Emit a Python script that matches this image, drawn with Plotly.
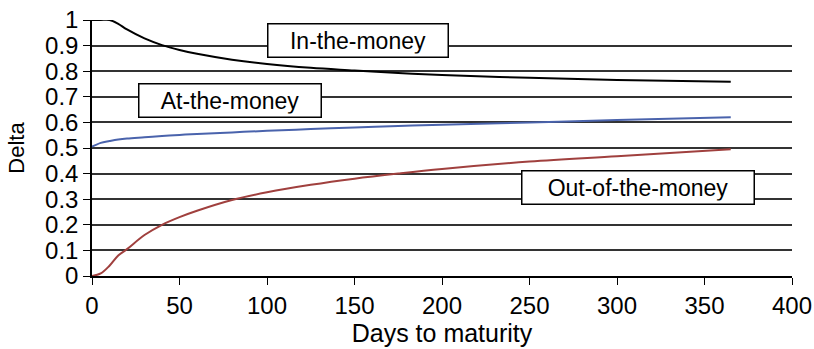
import plotly.graph_objects as go

days = [0, 5, 10, 15, 20, 30, 40, 50, 60, 80, 100, 125, 150, 175, 200, 250, 300, 365]
itm = [1.0, 1.0, 1.0, 0.985, 0.963, 0.928, 0.902, 0.883, 0.868, 0.845, 0.828, 0.813, 0.803, 0.793, 0.785, 0.774, 0.766, 0.759]
atm = [0.505, 0.52, 0.527, 0.533, 0.537, 0.542, 0.547, 0.551, 0.555, 0.561, 0.567, 0.574, 0.58, 0.586, 0.591, 0.6, 0.609, 0.62]
otm = [0.0, 0.01, 0.04, 0.08, 0.105, 0.16, 0.2, 0.23, 0.255, 0.297, 0.327, 0.356, 0.38, 0.4, 0.418, 0.447, 0.468, 0.495]

x_ticks = [0, 50, 100, 150, 200, 250, 300, 350, 400]
y_ticks = [0, 0.1, 0.2, 0.3, 0.4, 0.5, 0.6, 0.7, 0.8, 0.9, 1]
y_tick_text = ["0", "0.1", "0.2", "0.3", "0.4", "0.5", "0.6", "0.7", "0.8", "0.9", "1"]

labels = ["In-the-money", "At-the-money", "Out-of-the-money"]
label_x = [152, 79, 312]
label_y = [0.918, 0.686, 0.346]
label_w = [173, 175, 225]

fig = go.Figure()
fig.add_trace(go.Scatter(x=days, y=itm, mode="lines", line=dict(color="#000000", width=2, shape="spline")))
fig.add_trace(go.Scatter(x=days, y=atm, mode="lines", line=dict(color="#4A63AC", width=2, shape="spline")))
fig.add_trace(go.Scatter(x=days, y=otm, mode="lines", line=dict(color="#A0403E", width=2, shape="spline")))

for t, x, y, w in zip(labels, label_x, label_y, label_w):
    fig.add_annotation(x=x, y=y, text=t, showarrow=False, width=w, height=26,
                       font=dict(family="Liberation Sans, Arial", size=23, color="black"),
                       bgcolor="white", bordercolor="black", borderwidth=1.5, borderpad=3)

fig.update_layout(
    width=814, height=349,
    margin=dict(l=92, r=22, t=20, b=73),
    paper_bgcolor="white", plot_bgcolor="white",
    showlegend=False,
    font=dict(family="Liberation Sans, Arial", color="black"),
)
fig.update_xaxes(range=[0, 400], tickvals=x_ticks, ticktext=[str(v) for v in x_ticks],
                 ticks="outside", ticklen=7, tickcolor="black", showgrid=False,
                 showline=True, linecolor="black", linewidth=1.5, zeroline=False,
                 automargin=False,
                 tickfont=dict(size=24), title=dict(text="Days to maturity", font=dict(size=25), standoff=0))
fig.update_yaxes(range=[0, 1], tickvals=y_ticks, ticktext=y_tick_text,
                 ticks="outside", ticklen=7, tickcolor="black",
                 showgrid=True, gridcolor="#333333", gridwidth=1.5,
                 showline=True, linecolor="black", linewidth=1.5, zeroline=False,
                 automargin=False,
                 tickfont=dict(size=24), title=dict(text="Delta", font=dict(size=22), standoff=14))

fig.write_html("out.html", config={"displayModeBar": False},
               post_script="document.body.style.margin='0';")
